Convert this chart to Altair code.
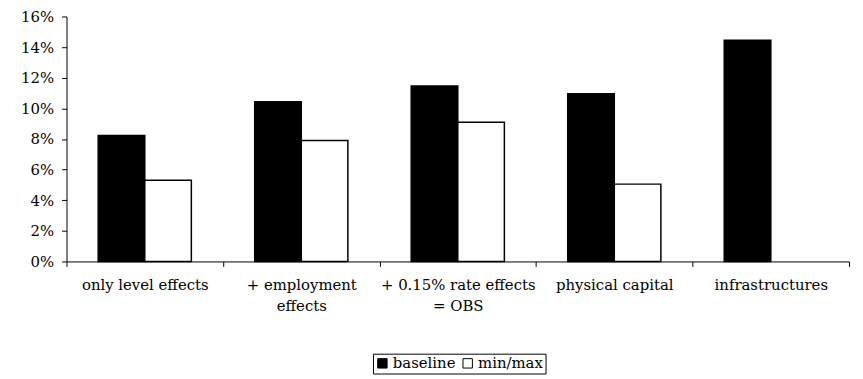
import altair as alt
import pandas as pd

categories = ["only level effects", "+ employment\neffects", "+ 0.15% rate effects\n= OBS", "physical capital", "infrastructures"]
baseline = [0.0822, 0.1043, 0.1146, 0.1095, 0.1444]
minmax = [0.0531, 0.0790, 0.0909, 0.0505, None]
series = ["baseline", "min/max"]

rows = []
for c, b, m in zip(categories, baseline, minmax):
    rows.append({"cat": c, "series": "baseline", "value": b})
    if m is not None:
        rows.append({"cat": c, "series": "min/max", "value": m})
df = pd.DataFrame(rows)

FONT = "DejaVu Serif"
FS = 15

chart = alt.Chart(df).mark_bar(stroke="black", strokeWidth=1.5).encode(
    x=alt.X("cat:N", sort=categories, title=None,
            scale=alt.Scale(paddingInner=0, paddingOuter=0),
            axis=alt.Axis(labelAngle=0, tickBand="extent", labelExpr="split(datum.label, '\\n')",
                          labelPadding=11, tickSize=5, labelFontSize=FS, labelFont=FONT,
                          labelColor="black", domainColor="black", tickColor="black",
                          labelLineHeight=21, labelBaseline="top")),
    xOffset=alt.XOffset("series:N", sort=series, scale=alt.Scale(paddingInner=0, paddingOuter=0.68)),
    y=alt.Y("value:Q", title=None, scale=alt.Scale(domain=[0, 0.16], nice=False),
            axis=alt.Axis(format=".0%", values=[0, 0.02, 0.04, 0.06, 0.08, 0.10, 0.12, 0.14, 0.16],
                          grid=False, tickSize=5, labelPadding=8, labelFontSize=FS, labelFont=FONT,
                          labelColor="black", domainColor="black", tickColor="black")),
    fill=alt.Fill("series:N", sort=series, scale=alt.Scale(domain=series, range=["black", "white"]),
                  legend=alt.Legend(title=None, orient="none", legendX=309, legendY=340, direction="horizontal",
                                    strokeColor="black", padding=2, symbolType="square", symbolSize=90,
                                    symbolStrokeColor="black", symbolStrokeWidth=1, labelFontSize=FS,
                                    labelFont=FONT, labelColor="black", columnPadding=4, labelOffset=3)),
).properties(
    width=789, height=247, padding={"left": 12, "top": 0, "right": 5, "bottom": 5}
).configure_view(stroke=None)

chart.save("out.html", embed_options={"renderer": "svg", "actions": False})
